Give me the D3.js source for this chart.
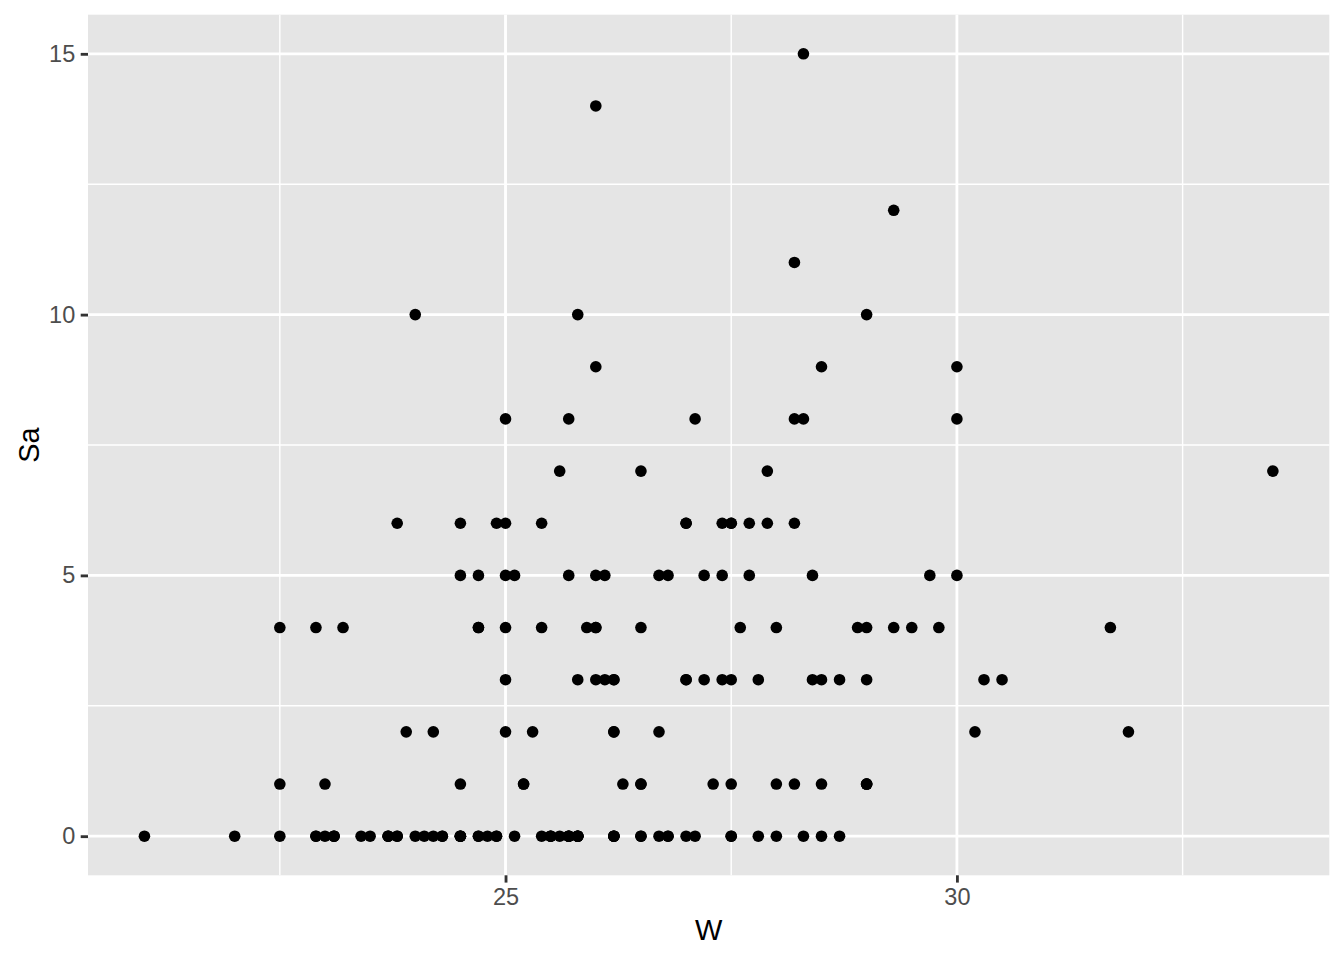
<!DOCTYPE html>
<meta charset="utf-8">
<body style="margin:0">
<script src="https://cdn.jsdelivr.net/npm/d3@7"></script>
<div id="chart"></div>
<script>
// crab widths (W) and satellite counts (Sa)
const widths = [28.3,26.0,25.6,21.0,29.0,25.0,26.2,24.9,25.7,27.5,26.1,28.9,30.3,22.9,26.2,24.5,30.0,26.2,25.4,25.4,
  27.5,27.0,24.0,28.7,26.5,24.5,27.3,26.5,25.0,22.0,30.2,25.4,24.9,25.8,27.2,30.5,25.0,30.0,22.9,23.9,
  26.0,25.8,29.0,26.5,22.5,23.8,24.3,26.0,24.7,22.5,28.7,29.3,26.7,23.4,27.7,28.2,24.7,25.7,27.8,27.0,
  29.0,25.6,24.2,25.7,23.1,28.5,29.7,23.1,24.5,27.5,26.3,27.8,31.9,25.0,26.2,28.4,24.5,27.9,25.0,29.0,
  31.7,27.6,24.5,23.8,28.2,24.1,28.0,26.0,24.7,25.8,27.1,27.4,26.7,26.8,25.8,23.7,27.9,30.0,25.0,27.7,
  28.3,25.5,26.0,26.2,23.0,22.9,25.1,25.9,25.5,26.8,29.0,28.5,24.7,29.0,27.0,23.7,27.0,24.2,22.5,25.1,
  24.9,27.5,24.3,29.5,26.2,24.7,29.8,25.7,26.2,27.0,24.8,23.7,28.2,25.2,23.2,25.8,27.5,25.7,26.8,27.5,
  28.5,28.5,27.4,27.2,27.1,28.0,26.5,23.0,26.0,24.5,25.8,23.5,26.7,25.5,28.2,25.2,25.3,25.7,29.3,23.8,
  27.4,26.2,28.0,28.4,33.5,25.8,24.0,23.1,28.3,26.5,26.5,26.1,24.5];
const sats = [8,4,0,0,1,3,0,0,8,6,5,4,3,4,3,5,8,3,6,4,
  0,3,0,0,1,0,1,1,2,0,2,0,6,10,5,3,8,9,0,2,
  4,0,4,0,0,0,0,14,0,1,3,4,5,0,6,6,5,5,0,3,
  10,7,0,0,0,0,5,0,1,1,1,3,2,5,0,3,6,7,6,3,
  4,4,0,0,8,0,0,9,0,0,8,5,2,5,0,0,6,5,4,5,
  15,0,5,0,1,0,5,4,0,0,1,1,4,1,6,0,6,2,4,0,
  0,6,0,4,0,4,4,0,2,0,0,0,11,1,4,3,0,0,0,3,
  9,3,6,3,0,1,0,0,3,0,0,0,0,0,1,1,2,0,12,6,
  3,2,4,5,7,0,10,0,0,4,7,3,0];
const xTicks = [25, 30];
const xMinor = [22.5, 27.5, 32.5];
const yTicks = [0, 5, 10, 15];
const yMinor = [2.5, 7.5, 12.5];

const W = 1344, H = 960;
const pLeft = 88, pRight = 1329.3, pTop = 14.7, pBottom = 875.3;

const svg = d3.select("#chart").append("svg")
  .attr("width", W).attr("height", H)
  .style("font-family", "'Liberation Sans', Arial, sans-serif");
svg.append("rect").attr("width", W).attr("height", H).attr("fill", "white");

const x = d3.scaleLinear().domain([20.375, 34.125]).range([pLeft, pRight]);
const y = d3.scaleLinear().domain([-0.75, 15.75]).range([pBottom, pTop]);

svg.append("rect").attr("x", pLeft).attr("y", pTop)
  .attr("width", pRight - pLeft).attr("height", pBottom - pTop).attr("fill", "#E5E5E5");

const grid = svg.append("g").attr("stroke", "white");
grid.selectAll(".xm").data(xMinor).join("line")
  .attr("x1", d => x(d)).attr("x2", d => x(d)).attr("y1", pTop).attr("y2", pBottom).attr("stroke-width", 1.42);
grid.selectAll(".ym").data(yMinor).join("line")
  .attr("y1", d => y(d)).attr("y2", d => y(d)).attr("x1", pLeft).attr("x2", pRight).attr("stroke-width", 1.42);
grid.selectAll(".xM").data(xTicks).join("line")
  .attr("x1", d => x(d)).attr("x2", d => x(d)).attr("y1", pTop).attr("y2", pBottom).attr("stroke-width", 2.84);
grid.selectAll(".yM").data(yTicks).join("line")
  .attr("y1", d => y(d)).attr("y2", d => y(d)).attr("x1", pLeft).attr("x2", pRight).attr("stroke-width", 2.84);

// points
svg.append("g").selectAll("circle")
  .data(widths.map((w, i) => [w, sats[i]]))
  .join("circle")
  .attr("cx", d => x(d[0])).attr("cy", d => y(d[1]))
  .attr("r", 5.8).attr("fill", "black");

// axes
const xAxis = svg.append("g").attr("transform", `translate(0,${pBottom})`)
  .call(d3.axisBottom(x).tickValues(xTicks).tickSize(7.3).tickPadding(5.5).tickFormat(d3.format("d")));
const yAxis = svg.append("g").attr("transform", `translate(${pLeft},0)`)
  .call(d3.axisLeft(y).tickValues(yTicks).tickSize(7.3).tickPadding(5.5).tickFormat(d3.format("d")));
[xAxis, yAxis].forEach(a => {
  a.select(".domain").remove();
  a.selectAll(".tick line").attr("stroke", "#333333").attr("stroke-width", 2.84);
  a.selectAll(".tick text").attr("fill", "#4D4D4D").style("font-size", "23.5px")
    .style("font-family", "'Liberation Sans', Arial, sans-serif");
});

svg.append("text").attr("x", (pLeft + pRight) / 2).attr("y", 940)
  .attr("text-anchor", "middle").style("font-size", "29px").text("W");
svg.append("text").attr("transform", `translate(39,${(pTop + pBottom) / 2}) rotate(-90)`)
  .attr("text-anchor", "middle").style("font-size", "29px").text("Sa");
</script>
</body>
